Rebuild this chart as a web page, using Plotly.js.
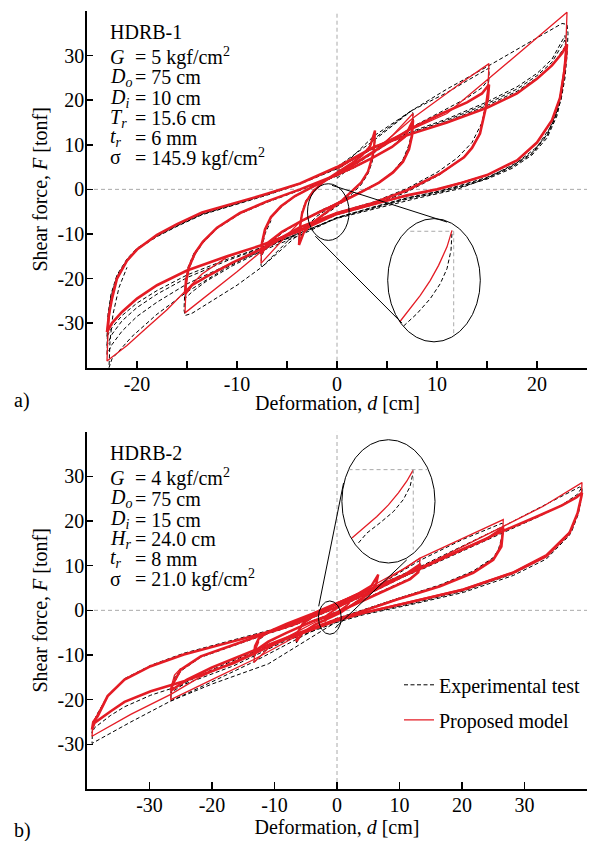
<!DOCTYPE html>
<html><head><meta charset="utf-8">
<script src="https://cdn.plot.ly/plotly-3.0.1.min.js"></script>
<style>html,body{margin:0;padding:0;background:#fff}</style>
</head><body><div id="chart" style="width:595px;height:841px"></div>
<script>
// ---------------- HDRB-1 : proposed model (red) ----------------
const m1_L23_d = [-23,-22.8,-22.5,-22,-21,-20,-18,-16,-13.5,-10,-7,-3.7,0,3.7,7.5,11,15,18,20,21.5,22.5,23,22.9,22.7,22.3,21.5,20,18,15,12.5,10,7,3.7,0,-3.7,-7.5,-11,-15,-18,-20,-21.5,-22.5,-23];
const m1_L23_F = [-32,-28,-24.5,-20,-16,-13.5,-10.2,-7.8,-5.2,-3,-1,1.3,5,9.5,12.5,15,18.3,21.5,24.8,27.8,30.5,32.5,29.5,26,20.5,15.5,10.5,6.5,3.2,1.5,0,-1.3,-3.2,-5.5,-9.3,-12.5,-15,-18.2,-21.5,-24.5,-27.5,-30,-32];
const m1_F23_d = [0,3.7,7.5,11,15,19,23,22.9,22.7,22.3,21.5,20,18,15,10,3.7,0,-7.5,-11,-13.5,-15.2,-17,-19,-21,-23,-22.9,-22.7,-22.4,-22,-21,-20];
const m1_F23_F = [4.5,9.5,13.5,17,24.5,32,39.7,33,27,20.5,15.5,10.5,6.5,3.2,0,-3.2,-5.5,-12.5,-15.2,-19,-23,-27,-31,-35,-38.5,-32,-27,-23,-20,-16,-13.5];
const m1_L15_d = [-15.2,-15.1,-14.8,-14.2,-13.4,-12,-9.7,-7,-3.7,0,3.7,7.5,10.5,13,14.5,15.2,15.1,14.8,14.3,13.5,12.7,10.3,7,3.7,0,-3.7,-7.5,-10.5,-13,-14.5,-15.2];
const m1_L15_F = [-23.5,-20.5,-17.4,-14.3,-11.7,-8.6,-5.3,-2.7,0,3.3,8.5,13.8,17,19.5,21.5,23.5,20.5,17.7,12.5,9.3,7.2,3.5,-0.2,-3,-5.3,-8.5,-13.3,-16.5,-19.5,-21.5,-23.5];
const m1_F15_d = [0,3.7,7.6,10,12.5,15.2,15.1,14.8,14.3,13.5,12.7,10.3,7,3.7,0,-3.7,-7.6,-10,-12.5,-15.2,-15.1,-14.8,-14.2,-13.4];
const m1_F15_F = [3.5,8.5,16,20,24,28.2,23,18,12.5,9.3,7.2,3.5,-0.2,-3,-5.3,-8.5,-14,-18.5,-23,-27.7,-22,-17.4,-14.3,-11.7];
const m1_L8_d = [-7.6,-7.5,-7.2,-6.6,-5.6,-4.2,-2.5,-0.5,1.5,3.5,5.5,6.8,7.6,7.5,7.2,6.6,5.6,4.2,2.5,0.5,-1.5,-3.5,-5.5,-6.8,-7.6];
const m1_L8_F = [-14.5,-12,-9,-6.2,-3.8,-1.5,0.5,2.8,4.8,7,9.5,11.8,15.5,12,9,6.2,3.8,1.5,-0.5,-2.8,-4.8,-7,-9.5,-11.8,-14.5];
const m1_F8_d = [0,3.8,5.5,7.6,7.5,7.2,6.6,5.6,4.2,2.5,0,-3.8,-5.5,-7.6,-7.5,-7.2,-6.6];
const m1_F8_F = [3,8.5,12,17,12,9,6.2,3.8,1.5,-0.5,-3,-7.5,-11.5,-16.6,-12,-9,-6.2];
const m1_L4_d = [-3.8,-3.7,-3.5,-3.1,-2.4,-1.5,-0.5,0.5,1.5,2.5,3.3,3.8,3.7,3.5,3.1,2.4,1.5,0.5,-0.5,-1.5,-2.5,-3.3,-3.8];
const m1_L4_F = [-12.5,-8.5,-5.5,-2.8,-0.5,1.4,3,4.4,5.9,7.6,9.6,13.2,9,7,4,1.5,-0.5,-2.5,-4.2,-5.8,-7.6,-9.6,-12.5];

// ---------------- HDRB-1 : experimental test (black dashed) ----------------
const e1_L23a_d = [-23,-22.9,-22.6,-22,-21,-20,-18,-16,-13.5,-10,-7,-3.7,0,3.7,7.5,11,15,18,20,21.5,22.3,22.8,22.9,22.8,22.5,22,21,19.5,17.5,15,12.5,10,7,3.7,0,-3.7,-7.5,-11,-15,-18,-20,-21.5,-22.5,-23];
const e1_L23a_F = [-35,-29,-24,-19.5,-15.8,-13.3,-10.5,-8.2,-5.6,-3.3,-1.2,1.3,4.7,9.3,12.8,15.5,19.2,22.5,25.5,28.5,31.5,33.5,31,27,22,17,12,8,5,2.5,0.8,-0.6,-2,-4,-6.3,-10,-13.2,-16,-19.8,-23.5,-26.5,-29.5,-32.5,-35];
const e1_L23b_F = [-33,-28,-23.5,-19.2,-15.6,-13.2,-10.4,-8.1,-5.5,-3.2,-1.1,1.4,4.8,9.2,12.5,15.2,18.8,22,25,27.8,30.5,32,30,26.5,21.5,16.5,11.5,7.7,4.7,2.3,0.6,-0.8,-2.2,-4.2,-6.4,-9.8,-13,-15.7,-19.2,-22.7,-25.5,-28.3,-31,-33];
const e1_L23c_F = [-37,-30,-24.5,-19.8,-16,-13.5,-10.6,-8.3,-5.7,-3.4,-1.3,1.2,4.6,9.4,13,15.8,19.6,23,26,29.2,32.3,34.5,32,28,23,17.5,12.3,8.2,5.2,2.7,1,-0.5,-1.9,-3.9,-6.4,-10.3,-13.8,-17,-21.2,-25.3,-28.5,-31.8,-34.8,-37];
const e1_F23_d = [0,3.7,7.5,11,15,18.5,21.5,22.5,23,23.1,23,22.8,22.4,21.5,20,18,15,12,8,4,0,-4,-8,-11,-15,-18,-20.5,-22.5,-22.8,-22.7,-22.4,-21.8,-21];
const e1_F23_F = [5,11,17.7,22.5,27.5,32,35.8,37.2,37,35,30,25,20,14.5,9.5,6,2.5,0,-2,-4.2,-6.5,-10,-14,-17.5,-23,-28,-33,-38,-40,-34,-28,-22,-17.5];
const e1_L15_d = [-15.2,-15.1,-14.8,-14.2,-13.4,-12,-9.7,-7,-3.7,0,3.7,7.5,10.5,13,14.5,15.1,15.2,15.1,14.8,14.3,13.5,12.7,10.3,7,3.7,0,-3.7,-7.5,-10.5,-13,-14.5,-15.2];
const e1_L15_F = [-24.5,-21,-17.8,-14.6,-12,-8.8,-5.5,-2.9,-0.2,3,8.2,14,17.5,20.5,22.8,24.5,23.5,21,18,12.8,9.5,7.3,3.3,-0.6,-3.4,-5.7,-9,-13.8,-17.2,-20.5,-23,-24.5];
const e1_F15_d = [0,3.7,7.5,11,13.5,14.8,15.2,15.2,15,14.5,13.5,12,10,7,3.7,0,-3.7,-7.5,-10,-12.5,-14.5,-15.2,-15.3,-15.2,-14.9,-14.3,-13.5];
const e1_F15_F = [4,12,17.7,21.7,25,26.8,27.2,25,20,15,10.5,7,3.8,0.2,-2.8,-5.2,-8.8,-17.4,-21.5,-25,-27.8,-28.3,-27,-22,-17.5,-14.3,-12];
const e1_L8_d = [-7.6,-7.5,-7.2,-6.6,-5.6,-4.2,-2.5,-0.5,1.5,3.5,5.5,6.8,7.5,7.6,7.5,7.2,6.6,5.6,4.2,2.5,0.5,-1.5,-3.5,-5.5,-6.8,-7.6];
const e1_L8_F = [-15,-12.3,-9.3,-6.4,-4,-1.6,0.4,2.6,4.6,7,9.6,12.3,15,15.8,12.5,9.5,6.5,4,1.6,-0.4,-2.6,-4.6,-7,-9.8,-12.3,-15];
const e1_F8_d = [0,2,3.8,5.5,7,7.5,7.6,7.5,7.2,6.6,5.6,4.2,2.5,0,-2,-3.8,-5.5,-7,-7.5,-7.6,-7.5,-7.2,-6.6];
const e1_F8_F = [2.5,6,11.5,14.5,17,17.7,17,13,10,6.7,4,1.5,-0.5,-3,-6,-10,-13.5,-16.5,-17.4,-17,-13,-10,-7];
const e1_L4_d = [-3.8,-3.7,-3.5,-3.1,-2.4,-1.5,-0.5,0.5,1.5,2.5,3.3,3.7,3.8,3.7,3.5,3.1,2.4,1.5,0.5,-0.5,-1.5,-2.5,-3.3,-3.8];
const e1_L4_F = [-11.5,-8,-5,-2.5,-0.3,1.5,3,4.3,5.7,7.5,9.8,11.5,11,8.5,6,3.5,1,-1,-3,-4.6,-6,-7.6,-9.5,-11.5];

// ---------------- HDRB-2 : proposed model (red) ----------------
const m2_L39_d = [-39.2,-39,-38.3,-36.7,-34,-29.8,-24.5,-16.5,-8.5,-5.8,0,6,13.3,20,26.6,32,36,38.3,39.2,39.1,38.5,37.2,33.5,28.2,20.2,12.2,4.2,0,-8.5,-16.5,-24.5,-29.8,-34,-36.2,-38.8,-39.2];
const m2_L39_F = [-26.7,-25,-23.7,-19.2,-15.5,-12.5,-9.9,-6.9,-3.9,-2.1,1.5,5.2,9.3,13.5,17.8,21,23.5,25.3,26.3,25.5,21.8,17.3,12.1,8.4,4.6,2,-0.6,-2.3,-6.6,-11.8,-15.9,-18.1,-20.5,-22.6,-25.2,-26.7];
const m2_F39_d = [0,13.3,26.6,33,39.2,39.1,38.6,37.5,33.5,28.2,20.2,12.2,4.2,0,-8.5,-16.5,-22,-26.6,-33,-39.2,-39,-38.4,-37];
const m2_F39_F = [1.5,9.5,18.8,23.3,28.6,25.5,22,18,12.5,8.6,4.8,2.1,-0.5,-2.2,-6.5,-11.5,-15,-18.8,-23.3,-28.2,-25,-23.5,-20];
const m2_L27_d = [-26.6,-26.3,-25,-21.8,-16.5,-11.2,-6.9,0,6,13.3,20,24,26.6,26.3,25,21.8,16.5,9.6,3.2,0,-6,-13,-20,-24,-26.6];
const m2_L27_F = [-18,-16.6,-13.3,-10.3,-7.7,-5.1,-3.2,0.8,4.5,9.5,13.6,16,18.5,14.3,11.3,8.4,5.4,2.4,-0.6,-2,-5,-8.8,-12.8,-15.5,-18];
const m2_F27_d = [0,6.5,13.3,20,26.6,26.5,26,25,21.8,16.5,9.6,3.2,0,-6.5,-13.3,-20,-26.6,-26.5,-26,-25];
const m2_F27_F = [1,5.5,11.7,16,20.3,17,14,11.5,8.5,5.4,2.4,-0.6,-2,-5.8,-11,-15.5,-20,-17,-14.5,-13];
const m2_L13_d = [-13.3,-13.1,-12.5,-11,-8,-4,0,4,8,11,13.3,13,11.7,8.5,4.2,0,-4,-8,-11,-12.5,-13.3];
const m2_L13_F = [-10,-8,-6.3,-4.8,-3,-0.8,1.6,3.8,6.2,8.1,10.3,8.5,7,5,2.2,-0.5,-2.5,-5,-7,-8.5,-10];
const m2_F13_d = [0,4,8,11,13.3,13.1,12.5,11.7,8.5,4.2,0,-4,-8,-11,-13.3,-13.1,-12.5];
const m2_F13_F = [1.5,4.2,7.3,9.5,11.7,9,8,7,5,2.2,-0.5,-3,-6,-8.5,-11.7,-9,-7];
const m2_L6_d = [-6.5,-6.3,-5.5,-3.5,0,3.5,5.5,6.6,6.3,5.5,3.7,0.5,-3.5,-5.5,-6.5];
const m2_L6_F = [-7,-5,-3,-1,1.5,3.8,5.5,8,6.1,4,2.4,-0.6,-3.2,-5,-7];
const m2_L2_d = [-2,-1.9,-1.5,0,1.5,2,1.9,1.5,0,-1.5,-2];
const m2_L2_F = [-2.5,-1.6,-1,0.5,1.7,2.5,1.6,1,-0.5,-1.7,-2.5];

// ---------------- HDRB-2 : experimental test (black dashed) ----------------
const e2_L39_d = [-39.2,-39,-38.3,-36.7,-34,-29.8,-24.5,-16.5,-8.5,0,6,13.3,20,26.6,32,36,38.5,39.2,39.1,38.5,37.2,33.5,28.2,20.2,12.2,4.2,0,-8.5,-16.5,-24.5,-29.8,-34,-36.2,-38.8,-39.2];
const e2_L39_F = [-27.5,-25.5,-23.3,-19,-15.3,-12.3,-9.6,-6.6,-3.6,1.3,5,9,13.2,17.5,20.8,23.6,26,27.6,25.8,21.5,16.8,11.5,7.8,4,1.4,-1,-2.7,-7,-12.4,-16.6,-19,-21.6,-23.5,-26.3,-27.5];
const e2_F39_d = [0,13.3,26.6,33,38.8,39.2,39.1,38.6,37.5,33.5,28.2,20.2,12.2,4.2,0,-11,-20,-26.6,-33,-39.2,-39.1,-38.5,-37];
const e2_F39_F = [1.5,9.8,18.8,23.5,27.6,27.3,25,21.5,17.5,12,8.2,4.3,1.6,-0.8,-2.5,-12,-16.5,-20.3,-25,-29.8,-26,-23.5,-20];
const e2_L27_d = [-26.6,-26.3,-25,-21.8,-16.5,-11.2,-6.9,0,6,13.3,20,24,26.6,26.3,25,21.8,16.5,9.6,3.2,0,-6,-13,-20,-24,-26.6];
const e2_L27_F = [-18.5,-16.8,-13.6,-10.5,-7.9,-5.3,-3.4,0.6,4.3,9.3,13.6,16.2,18.5,14.6,11.6,8.6,5.6,2.6,-0.4,-1.8,-5.2,-9.1,-13.3,-16,-18.5];
const e2_F27_d = [0,6.5,13.3,20,26.4,26.6,26.4,25.8,25,21.8,16.5,9.6,3.2,0,-6.5,-13.3,-20,-26.6,-26.5,-26,-25];
const e2_F27_F = [1,5.5,11.2,15.8,19.5,19.2,16.5,13.5,11.8,8.8,5.7,2.6,-0.4,-1.8,-6.5,-11.5,-16,-20.3,-17.5,-15,-13.3];
const e2_L13_d = [-13.3,-13.1,-12.5,-11,-8,-4,0,4,8,11,13.3,13,11.7,8.5,4.2,0,-4,-8,-11,-12.5,-13.3];
const e2_L13_F = [-10.5,-8.3,-6.6,-5,-3.2,-1,1.5,3.6,6,8,10.5,8.6,7.2,5.2,2.4,-0.3,-2.4,-5,-7.2,-8.8,-10.5];
const e2_L6_d = [-6.5,-6.3,-5.5,-3.5,0,3.5,5.5,6.5,6.3,5.5,3.7,0.5,-3.5,-5.5,-6.5];
const e2_L6_F = [-7.3,-5.2,-3.2,-1.2,1.4,3.7,5.4,7.3,6,4.1,2.5,-0.4,-3.1,-5,-7.3];

// ---------------- zoom insets (curves in magnified view) ----------------
const in1_red_d = [6.26,7.33,8.33,9.33,10.16,11.0,11.5];
const in1_red_F = [-29.75,-26.75,-23.77,-20.4,-17.04,-12.9,-9.19];
const in1_exp_d = [6.66,8.0,9.33,10.33,11.0,11.4,11.5];
const in1_exp_F = [-30.65,-27.87,-24.5,-21.14,-17.78,-13.68,-9.57];
const in2_red_d = [2.39,4.51,6.38,8.23,9.82,11.16,12.22];
const in2_red_F = [16.2,18.8,21.0,23.6,26.3,28.9,31.5];
const in2_exp_d = [3.44,4.78,6.9,9.03,10.62,11.69,12.22];
const in2_exp_F = [15.1,17.3,19.6,22.1,24.8,27.7,31.1];

// ---------------- ticks ----------------
const x1TickVals = [-25,-20,-15,-10,-5,0,5,10,15,20,25];
const x1TickText = ['','-20','','-10','','0','','10','','20',''];
const x2TickVals = [-40,-30,-20,-10,0,10,20,30,40];
const x2TickText = ['','-30','-20','-10','0','10','20','30',''];
const yTickVals = [-40,-30,-20,-10,0,10,20,30,40];
const yTickText = ['','-30','-20','-10','0','10','20','30',''];

const RED = '#e41c25';
const traces = [];
function exp(d, F, xa, ya, show) {
  traces.push({x:d, y:F, xaxis:xa, yaxis:ya, type:'scatter', mode:'lines',
    line:{color:'#000', width:1, dash:'4px,2.5px'}, name:'Experimental test',
    legendgroup:'exp', showlegend:!!show, hoverinfo:'skip'});
}
function mod(d, F, xa, ya, w, show) {
  traces.push({x:d, y:F, xaxis:xa, yaxis:ya, type:'scatter', mode:'lines',
    line:{color:RED, width:w}, name:'Proposed model',
    legendgroup:'mod', showlegend:!!show, hoverinfo:'skip'});
}
// experimental first (drawn beneath)
exp(e1_F23_d, e1_F23_F, 'x', 'y');
exp(e1_L23a_d, e1_L23a_F, 'x', 'y');
exp(e1_L23a_d, e1_L23b_F, 'x', 'y');
exp(e1_L23a_d, e1_L23c_F, 'x', 'y');
exp(e1_F15_d, e1_F15_F, 'x', 'y');
exp(e1_L15_d, e1_L15_F, 'x', 'y');
exp(e1_F8_d, e1_F8_F, 'x', 'y');
exp(e1_L8_d, e1_L8_F, 'x', 'y');
exp(e1_L4_d, e1_L4_F, 'x', 'y');
exp(in1_exp_d, in1_exp_F, 'x', 'y');
exp(e2_F39_d, e2_F39_F, 'x2', 'y2');
exp(e2_L39_d, e2_L39_F, 'x2', 'y2', true);
exp(e2_F27_d, e2_F27_F, 'x2', 'y2');
exp(e2_L27_d, e2_L27_F, 'x2', 'y2');
exp(e2_L13_d, e2_L13_F, 'x2', 'y2');
exp(e2_L6_d, e2_L6_F, 'x2', 'y2');
exp(in2_exp_d, in2_exp_F, 'x2', 'y2');
// model
mod(m1_F23_d, m1_F23_F, 'x', 'y', 1.3);
mod(m1_L23_d, m1_L23_F, 'x', 'y', 2.6);
mod(m1_F15_d, m1_F15_F, 'x', 'y', 1.3);
mod(m1_L15_d, m1_L15_F, 'x', 'y', 2.6);
mod(m1_F8_d, m1_F8_F, 'x', 'y', 1.3);
mod(m1_L8_d, m1_L8_F, 'x', 'y', 2.6);
mod(m1_L4_d, m1_L4_F, 'x', 'y', 2.4);
mod(in1_red_d, in1_red_F, 'x', 'y', 1.3);
mod(m2_F39_d, m2_F39_F, 'x2', 'y2', 1.3, true);
mod(m2_L39_d, m2_L39_F, 'x2', 'y2', 2.6);
mod(m2_F27_d, m2_F27_F, 'x2', 'y2', 1.3);
mod(m2_L27_d, m2_L27_F, 'x2', 'y2', 2.6);
mod(m2_F13_d, m2_F13_F, 'x2', 'y2', 1.3);
mod(m2_L13_d, m2_L13_F, 'x2', 'y2', 2.6);
mod(m2_L6_d, m2_L6_F, 'x2', 'y2', 2.4);
mod(m2_L2_d, m2_L2_F, 'x2', 'y2', 2);
mod(in2_red_d, in2_red_F, 'x2', 'y2', 1.3);

const FONT = 'Liberation Serif, Times New Roman, serif';
const XTITLE = 'Deformation, <i>d</i> [cm]';
function xax(vals, text, range, anchor, withTitle) {
  const a = {anchor:anchor, domain:[0,1], range:range, tickvals:vals, ticktext:text,
    ticks:'inside', ticklen:7, tickwidth:1.5, tickcolor:'#000', showline:true, linewidth:1.8,
    linecolor:'#000', showgrid:false, zeroline:false, fixedrange:true, ticklabelstandoff:-3,
    tickfont:{family:FONT, size:20, color:'#000'}};
  if (withTitle) a.title = {text:XTITLE, font:{family:FONT, size:20, color:'#000'}, standoff:2};
  return a;
}
function yax(domain, anchor) {
  return {anchor:anchor, domain:domain, range:[-40,40], tickvals:yTickVals, ticktext:yTickText,
    ticks:'inside', ticklen:6, tickwidth:1.5, tickcolor:'#000', showline:true, linewidth:1.8,
    linecolor:'#000', showgrid:false, zeroline:false, fixedrange:true, ticklabelstandoff:-3,
    tickfont:{family:FONT, size:20, color:'#000'},
    title:{text:'Shear force, <i>F</i> [tonf]', font:{family:FONT, size:20, color:'#000'}, standoff:4}};
}
const GRAY = '#aaaaaa';
const shapes = [];
function guide(xr, yr, x0, y0, x1, y1, color, dash, layer) {
  shapes.push({type:'line', xref:xr, yref:yr, x0:x0, y0:y0, x1:x1, y1:y1,
    line:{color:color, width:1, dash:dash}, layer:layer || 'above'});
}
// zero lines
guide('x','y',-25,0,25,0,GRAY,'4px,3px','below');
guide('x','y',0,-40,0,40,GRAY,'4px,3px','below');
guide('x2','y2',-40,0,40,0,GRAY,'4px,3px','below');
guide('x2','y2',0,-40,0,40,GRAY,'4px,3px','below');
// inset 1 (HDRB-1)
shapes.push({type:'circle', xref:'x', yref:'y', x0:-2.95, x1:1.21, y0:-11.44, y1:1.26, line:{color:'#000', width:1}});
shapes.push({type:'circle', xref:'x', yref:'y', x0:5.07, x1:14.33, y0:-34.2, y1:-6.56, line:{color:'#000', width:1}});
guide('x','y',-0.5,0.9,11.0,-7.33,'#000','solid');
guide('x','y',-2.17,-10.5,6.5,-30,'#000','solid');
guide('x','y',7.33,-9.4,11.67,-9.4,GRAY,'4px,3px');
guide('x','y',11.67,-9.4,11.67,-33.1,GRAY,'4px,3px');
// inset 2 (HDRB-2)
shapes.push({type:'circle', xref:'x2', yref:'y2', x0:-2.98, x1:0.68, y0:-5.36, y1:2.1, line:{color:'#000', width:1}});
shapes.push({type:'circle', xref:'x2', yref:'y2', x0:0.78, x1:15.68, y0:10.6, y1:38.2, line:{color:'#000', width:1}});
guide('x2','y2',-2.93,0.9,1.05,28.5,'#000','solid');
guide('x2','y2',-0.27,-3.9,11.16,11.3,'#000','solid');
guide('x2','y2',1.85,31.5,14.6,31.5,GRAY,'4px,3px');
guide('x2','y2',12.2,31.5,12.2,13.6,GRAY,'4px,3px');

const annotations = [];
function txt(x, y, t, xanchor) {
  annotations.push({xref:'paper', yref:'paper', x:x, y:y, xanchor:xanchor || 'left', yanchor:'middle',
    text:t, showarrow:false, font:{family:FONT, size:20, color:'#000'}});
}
// HDRB-1 parameters
txt(0.042, 0.973, 'HDRB-1');
txt(0.042, 0.941, '<i>G</i>'); txt(0.092, 0.941, '= 5 kgf/cm<sup>2</sup>');
txt(0.042, 0.915, '<i>D<sub>o</sub></i>'); txt(0.092, 0.915, '= 75 cm');
txt(0.042, 0.888, '<i>D<sub>i</sub></i>'); txt(0.092, 0.888, '= 10 cm');
txt(0.042, 0.862, '<i>T<sub>r</sub></i>'); txt(0.092, 0.862, '= 15.6 cm');
txt(0.042, 0.837, '<i>t<sub>r</sub></i>'); txt(0.092, 0.837, '= 6 mm');
txt(0.042, 0.812, 'σ'); txt(0.092, 0.812, '= 145.9 kgf/cm<sup>2</sup>');
// top panel x-axis title
txt(0.5, 0.4965, XTITLE, 'center');
// HDRB-2 parameters
txt(0.042, 0.432, 'HDRB-2');
txt(0.042, 0.400, '<i>G</i>'); txt(0.092, 0.400, '= 4 kgf/cm<sup>2</sup>');
txt(0.042, 0.373, '<i>D<sub>o</sub></i>'); txt(0.092, 0.373, '= 75 cm');
txt(0.042, 0.346, '<i>D<sub>i</sub></i>'); txt(0.092, 0.346, '= 15 cm');
txt(0.042, 0.321, '<i>H<sub>r</sub></i>'); txt(0.092, 0.321, '= 24.0 cm');
txt(0.042, 0.296, '<i>t<sub>r</sub></i>'); txt(0.092, 0.296, '= 8 mm');
txt(0.042, 0.270, 'σ'); txt(0.092, 0.270, '= 21.0 kgf/cm<sup>2</sup>');
// panel labels
txt(-0.15, 0.5, 'a)');
txt(-0.15, -0.053, 'b)');

const layout = {
  width:595, height:841,
  margin:{l:87, r:8, t:11, b:52},
  paper_bgcolor:'#fff', plot_bgcolor:'#fff',
  font:{family:FONT, size:20, color:'#000'},
  showlegend:true,
  legend:{x:0.624, y:0.159, xanchor:'left', yanchor:'top', bgcolor:'rgba(0,0,0,0)',
    font:{family:FONT, size:20, color:'#000'}, traceorder:'grouped', tracegroupgap:6},
  xaxis: xax(x1TickVals, x1TickText, [-25,25], 'y', false),
  yaxis: yax([0.5415,1], 'x'),
  xaxis2: xax(x2TickVals, x2TickText, [-40,40], 'y2', true),
  yaxis2: yax([0,0.4593], 'x2'),
  shapes:shapes, annotations:annotations
};
Plotly.newPlot('chart', traces, layout, {displayModeBar:false, staticPlot:true});
</script></body></html>
